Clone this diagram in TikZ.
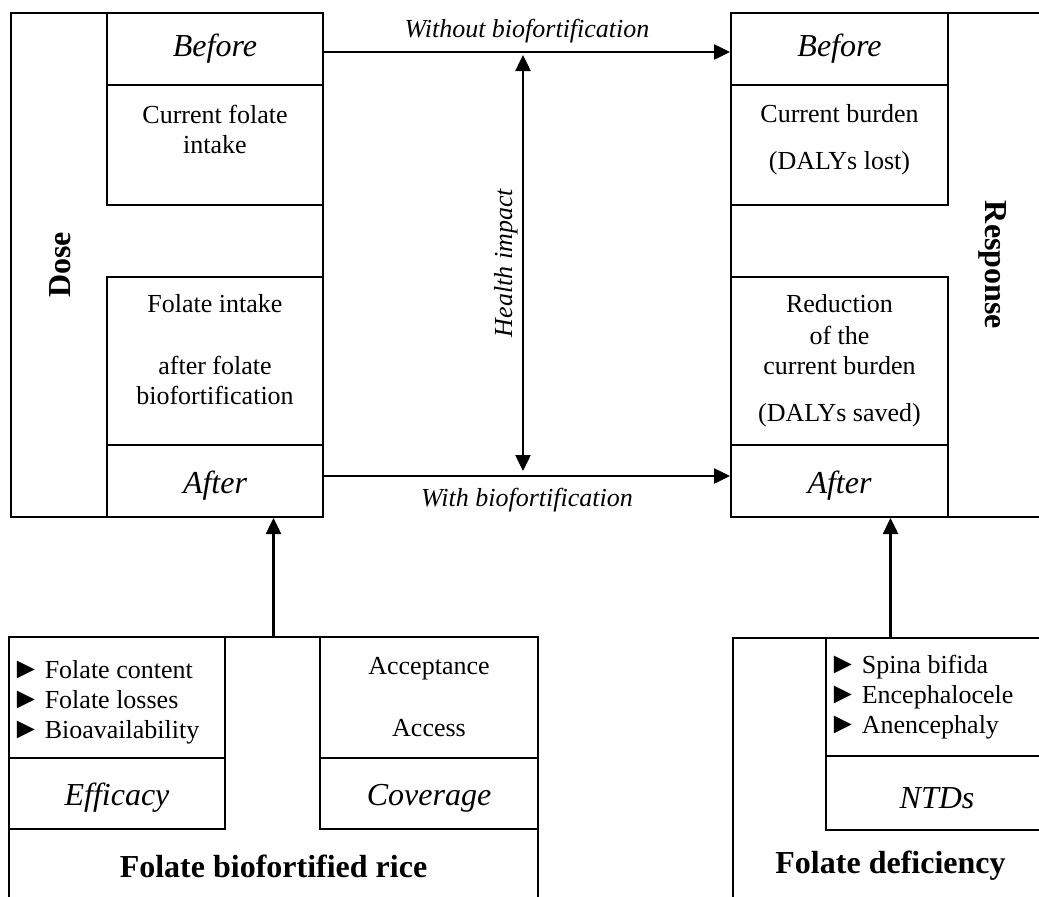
\documentclass[tikz,border=0pt]{standalone}
\usepackage{fontspec}
\setmainfont{Liberation Serif}
\usetikzlibrary{positioning,arrows.meta}
\newcommand{\pointer}{\scalebox{1.15}{►}\hspace{4pt}}
\tikzstyle{panel} = [draw=black, line width=2pt, rectangle, inner sep=0pt]
\tikzstyle{cell} = [draw=black, line width=2pt, rectangle, inner sep=0pt, font=\fontsize{32}{36}\selectfont\itshape]
\tikzstyle{lowcell} = [cell, text height=31pt]
\tikzstyle{txt} = [font=\fontsize{26}{30}\selectfont, align=center, inner sep=0pt]
\tikzstyle{bullets} = [font=\fontsize{26}{30}\selectfont, align=left, inner sep=0pt]
\tikzstyle{flowtext} = [font=\fontsize{26}{30}\selectfont\itshape, inner sep=0pt]
\tikzstyle{sidetitle} = [font=\fontsize{32}{36}\selectfont\bfseries, inner sep=0pt]
\tikzstyle{flow} = [line width=2.5pt, -{Triangle[length=16pt,width=15pt]}]

\begin{document}
\begin{tikzpicture}[x=1pt,y=-1pt]
		\useasboundingbox (0,0) rectangle (1039,897);
		\clip (0,0) rectangle (1039,897);
		\node[panel, minimum width=312, minimum height=504](dose) at (167,265) {};
		\node[cell, minimum width=216, minimum height=72](dbefore) at (215,49) {Before};
		\node[cell, minimum width=216, minimum height=120](dcurrent) at (215,145) {};
		\node[cell, minimum width=216, minimum height=168](dintake) at (215,361) {};
		\node[lowcell, minimum width=216, minimum height=72](dafter) at (215,481) {After};
		\node[txt, below=21pt](dcurtext) at (dcurrent.north) {Current folate\\intake};
		\node[txt, below=18pt](dinttext) at (dintake.north) {Folate intake\\[32pt]after folate\\biofortification};
		\node[sidetitle, rotate=90](dosetext) at (60,265) {Dose};
		\node[panel, minimum width=314, minimum height=504](resp) at (888,265) {};
		\node[cell, minimum width=217, minimum height=72](rbefore) at (839.5,49) {Before};
		\node[cell, minimum width=217, minimum height=120](rcurrent) at (839.5,145) {};
		\node[cell, minimum width=217, minimum height=168](rreduct) at (839.5,361) {};
		\node[lowcell, minimum width=217, minimum height=72](rafter) at (839.5,481) {After};
		\node[txt, below=20pt](rcurtext) at (rcurrent.north) {Current burden\\[17pt](DALYs lost)};
		\node[txt, below=18pt](rredtext) at (rreduct.north) {Reduction\\[2pt]of the\\current burden\\[17pt](DALYs saved)};
		\node[sidetitle, rotate=-90](resptext) at (993,265) {Response};
		\draw[flow] ([yshift=-3pt]dbefore.east) -- node[flowtext, above=8pt](wolabel) {Without biofortification} ([yshift=-3pt]rbefore.west);
		\draw[flow] ([yshift=5pt]dafter.east) -- node[flowtext, below=11pt](wlabel) {With biofortification} ([yshift=5pt]rafter.west);
		\coordinate (hitop) at (523,55);
		\coordinate (hibot) at (523,471);
		\draw[flow, {Triangle[length=16pt,width=15pt]}-{Triangle[length=16pt,width=15pt]}] (hibot) -- node[flowtext, sloped, above=4pt](hilabel) {Health impact} (hitop);
		\node[panel, minimum width=529, minimum height=280](rice) at (273.5,777) {};
		\node[cell, minimum width=216, minimum height=121](effbox) at (117,697.5) {};
		\node[lowcell, minimum width=216, minimum height=71](efficacy) at (117,793.5) {Efficacy};
		\node[cell, minimum width=218, minimum height=121](covbox) at (429,697.5) {};
		\node[lowcell, minimum width=218, minimum height=71](coverage) at (429,793.5) {Coverage};
		\node[bullets, right=3pt, yshift=-5pt](efftext) at (effbox.west) {\pointer Folate content\\\pointer Folate losses\\\pointer Bioavailability};
		\node[txt](covtext) at (covbox) {Acceptance\\[32pt]Access};
		\node[sidetitle](ricetext) at (273.5,866) {Folate biofortified rice};
		\draw[flow] (rice.north) -- (rice.north |- dafter.south);
		\node[panel, minimum width=315, minimum height=280](deficit) at (890.5,778) {};
		\node[cell, minimum width=222, minimum height=118](ntdbox) at (937,697) {};
		\node[lowcell, minimum width=222, minimum height=74](ntds) at (937,793) {NTDs};
		\node[bullets, right=3pt](ntdtext) at (ntdbox.west) {\pointer Spina bifida\\\pointer Encephalocele\\\pointer Anencephaly};
		\node[sidetitle](deftext) at (890.5,866) {Folate deficiency};
		\draw[flow] (deficit.north) -- (deficit.north |- rafter.south);
	\end{tikzpicture}
\end{document}
